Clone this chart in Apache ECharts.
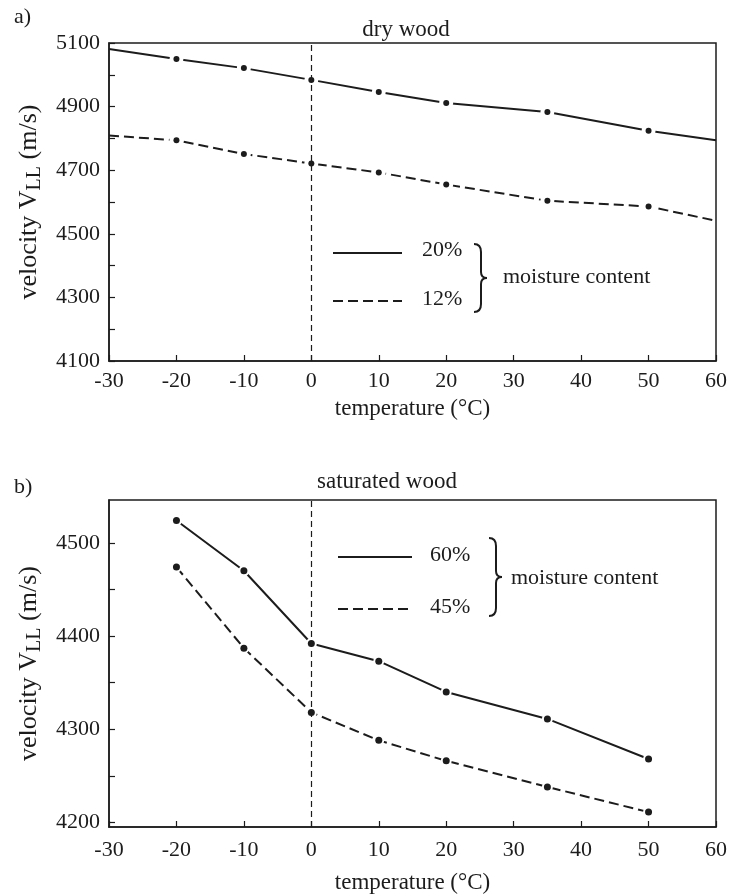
<!DOCTYPE html>
<html>
<head>
<meta charset="utf-8">
<script src="https://cdn.jsdelivr.net/npm/echarts@6/dist/echarts.min.js"></script>
<style>
html,body{margin:0;padding:0;background:#fff;}
#c{width:731px;height:895px;}
</style>
</head>
<body>
<div id="c"></div>
<script>
// ---- data ----
const xTickLabels = [-30, -20, -10, 0, 10, 20, 30, 40, 50, 60];
const measuredTemps = [-20, -10, 0, 10, 20, 35, 50];

// dry wood (lines run across the whole axis range)
const dryX = [-30, -20, -10, 0, 10, 20, 35, 50, 60];
const dry20 = [5081, 5050, 5021, 4984, 4946, 4911, 4883, 4824, 4794];
const dry12 = [4809, 4794, 4751, 4721, 4693, 4655, 4604, 4586, 4541];
const dryYLabels = [4100, 4300, 4500, 4700, 4900, 5100];
const dryYTicks = [4100, 4200, 4300, 4400, 4500, 4600, 4700, 4800, 4900, 5000, 5100];

// saturated wood
const satX = [-20, -10, 0, 10, 20, 35, 50];
const sat60 = [4524, 4470, 4392, 4373, 4340, 4311, 4268];
const sat45 = [4474, 4387, 4318, 4288, 4266, 4238, 4211];
const satYLabels = [4200, 4300, 4400, 4500];
const satYTicks = [4200, 4250, 4300, 4350, 4400, 4450, 4500];

// ---- helpers ----
const FONT = '"Liberation Serif","Times New Roman",serif';
const INK = '#1c1c1c';
const pairs = (xs, ys) => xs.map((x, i) => [x, ys[i]]);
const dots = (xs, ys) => pairs(xs, ys).filter(p => measuredTemps.includes(p[0]));

const chart = echarts.init(document.getElementById('c'), null, {renderer: 'canvas'});

function xAxisCfg(gridIndex, margin, nameGap) {
  return {
    gridIndex, type: 'value', min: -30, max: 60, interval: 10,
    name: 'temperature (°C)', nameLocation: 'middle', nameGap,
    nameTextStyle: {fontFamily: FONT, fontSize: 23, color: INK},
    axisLine: {show: true, onZero: false, lineStyle: {color: INK, width: 1.5}},
    axisTick: {show: true, inside: true, length: 6, lineStyle: {color: INK, width: 1.2}},
    axisLabel: {fontFamily: FONT, fontSize: 22, color: INK, margin,
      customValues: xTickLabels, formatter: v => String(v)},
    splitLine: {show: false}
  };
}
function yAxisCfg(gridIndex, min, max, labels, ticks) {
  return {
    gridIndex, type: 'value', min, max,
    name: 'velocity V{sub|LL} (m/s)', nameLocation: 'middle', nameGap: 64,
    nameTextStyle: {fontFamily: FONT, fontSize: 26, color: INK, verticalAlign: 'top', lineHeight: 26,
      rich: {sub: {fontFamily: FONT, fontSize: 20, color: INK, verticalAlign: 'top', lineHeight: 20, padding: [9, 0, 0, 0]}}},
    axisLine: {show: true, onZero: false, lineStyle: {color: INK, width: 1.5}},
    axisTick: {show: true, inside: true, length: 6, customValues: ticks, lineStyle: {color: INK, width: 1.2}},
    axisLabel: {fontFamily: FONT, fontSize: 22, color: INK, margin: 9, customValues: labels,
      formatter: v => String(v)},
    splitLine: {show: false}
  };
}
function lineSeries(idx, data, dashed, withMark) {
  const s = {
    type: 'line', xAxisIndex: idx, yAxisIndex: idx, data,
    showSymbol: false, symbol: 'none', z: 2, silent: true,
    lineStyle: {color: INK, width: 2, type: dashed ? [10, 5] : 'solid'}
  };
  if (withMark) {
    s.markLine = {
      silent: true, symbol: ['none', 'none'], animation: false,
      label: {show: false},
      lineStyle: {color: INK, width: 1.2, type: [6, 4]},
      data: [{xAxis: 0}]
    };
  }
  return s;
}
function scatterSeries(idx, data, color, size, z) {
  return {type: 'scatter', xAxisIndex: idx, yAxisIndex: idx, data, symbol: 'circle',
    symbolSize: size, itemStyle: {color, opacity: 1}, z, silent: true};
}

function brace(x, y, h) {
  const m = h / 2;
  const st = {fill: 'none', stroke: INK, lineWidth: 2};
  const bz = (x1, y1, cpx1, cpy1, cpx2, cpy2, x2, y2) =>
    ({type: 'bezierCurve', shape: {x1, y1, cpx1, cpy1, cpx2, cpy2, x2, y2}, style: st, silent: true});
  const ln = (x1, y1, x2, y2) => ({type: 'line', shape: {x1, y1, x2, y2}, style: st, silent: true});
  return {type: 'group', x, y, silent: true, children: [
    bz(0, 0, 5, 0, 7, 3, 7, 8),
    ln(7, 8, 7, m - 6),
    bz(7, m - 6, 7, m - 2, 9, m, 13, m),
    bz(13, m, 9, m, 7, m + 2, 7, m + 6),
    ln(7, m + 6, 7, h - 8),
    bz(7, h - 8, 7, h - 3, 5, h, 0, h)
  ]};
}
function txt(text, x, y, size, align) {
  return {type: 'text', x, y, style: {text, font: `${size}px ${FONT}`, fill: INK,
    textAlign: align || 'left', textVerticalAlign: 'middle'}, silent: true};
}
function legLine(x1, x2, y, dashed) {
  return {type: 'line', shape: {x1, y1: y, x2, y2: y},
    style: {stroke: INK, lineWidth: 2, lineDash: dashed ? [10, 5] : null}, silent: true};
}

const option = {
  animation: false,
  backgroundColor: '#fff',
  grid: [
    {left: 109, top: 43, width: 607, height: 318, show: true, borderColor: INK, borderWidth: 1.5, backgroundColor: 'transparent'},
    {left: 109, top: 500, width: 607, height: 328, show: true, borderColor: INK, borderWidth: 1.5, backgroundColor: 'transparent'}
  ],
  xAxis: [xAxisCfg(0, 9, 36), xAxisCfg(1, 12, 44)],
  yAxis: [
    yAxisCfg(0, 4100, 5100, dryYLabels, dryYTicks),
    yAxisCfg(1, 4195, 4546, satYLabels, satYTicks)
  ],
  series: [
    lineSeries(0, pairs(dryX, dry20), false, true),
    lineSeries(0, pairs(dryX, dry12), true, false),
    scatterSeries(0, dots(dryX, dry20), '#fff', 14, 3),
    scatterSeries(0, dots(dryX, dry12), '#fff', 14, 3),
    scatterSeries(0, dots(dryX, dry20), INK, 6, 4),
    scatterSeries(0, dots(dryX, dry12), INK, 6, 4),

    lineSeries(1, pairs(satX, sat60), false, true),
    lineSeries(1, pairs(satX, sat45), true, false),
    scatterSeries(1, dots(satX, sat60), '#fff', 11, 3),
    scatterSeries(1, dots(satX, sat45), '#fff', 11, 3),
    scatterSeries(1, dots(satX, sat60), INK, 7, 4),
    scatterSeries(1, dots(satX, sat45), INK, 7, 4)
  ],
  graphic: [
    txt('a)', 14, 17, 22),
    txt('dry wood', 406, 30, 23, 'center'),
    txt('b)', 14, 487, 22),
    txt('saturated wood', 387, 482, 23, 'center'),
    // legend a
    legLine(333, 402, 253, false),
    txt('20%', 422, 250, 22),
    legLine(333, 402, 301, true),
    txt('12%', 422, 299, 22),
    brace(474, 244, 68),
    txt('moisture content', 503, 277, 22),
    // legend b
    legLine(338, 412, 557, false),
    txt('60%', 430, 555, 22),
    legLine(338, 412, 609, true),
    txt('45%', 430, 607, 22),
    brace(489, 538, 78),
    txt('moisture content', 511, 578, 22)
  ]
};
chart.setOption(option);
</script>
</body>
</html>
